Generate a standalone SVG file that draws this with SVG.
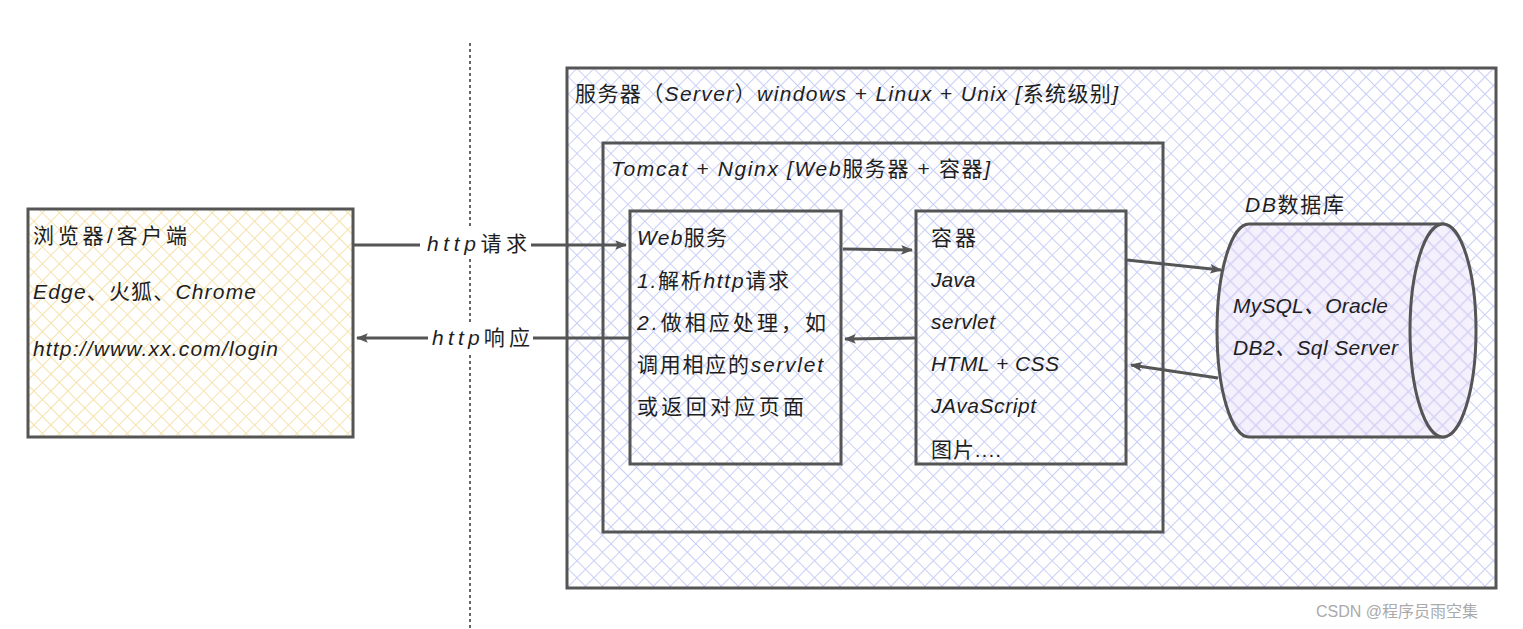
<svg xmlns="http://www.w3.org/2000/svg" width="1523" height="629" viewBox="0 0 1523 629">
<defs>
<pattern id="hy" width="12" height="12" patternUnits="userSpaceOnUse" patternTransform="rotate(45)">
<rect width="12" height="12" fill="#fff"/>
<path d="M0 0H12M0 0V12" stroke="#f5e2ad" stroke-width="2"/>
</pattern>
<pattern id="hb" width="12" height="12" patternUnits="userSpaceOnUse" patternTransform="rotate(45)">
<rect width="12" height="12" fill="#fff"/>
<path d="M0 0H12M0 0V12" stroke="#c9cff6" stroke-width="2"/>
</pattern>
<pattern id="hp" width="12" height="12" patternUnits="userSpaceOnUse" patternTransform="rotate(45)">
<rect width="12" height="12" fill="#f4f1fd"/>
<path d="M0 0H12M0 0V12" stroke="#d6d2f6" stroke-width="3"/>
</pattern>
<marker id="ah" viewBox="0 0 10 10" refX="9" refY="5" markerWidth="4" markerHeight="4" orient="auto" markerUnits="strokeWidth">
<path d="M0 1L10 5L0 9L2 5Z" fill="#555"/>
</marker>
<style>
.box{stroke:#555;stroke-width:3}
.t{font-family:"Liberation Sans","Noto Sans CJK SC",sans-serif;font-size:21px;fill:#1e1e1e}
.i{font-style:italic}
.c{stroke:#555;stroke-width:3;fill:none;marker-end:url(#ah)}
.l{stroke:#555;stroke-width:3;fill:none}
</style>
</defs>
<rect width="1523" height="629" fill="#fff"/>
<line x1="470" y1="43" x2="470" y2="629" stroke="#666" stroke-width="2" stroke-dasharray="3 3"/>

<g id="browser">
<rect class="box" x="28" y="209" width="325" height="228" fill="url(#hy)"/>
<text class="t" x="33" y="243" textLength="154" lengthAdjust="spacing">浏览器/客户端</text>
<text class="t" x="33" y="299" textLength="223" lengthAdjust="spacing"><tspan class="i">Edge</tspan>、火狐、<tspan class="i">Chrome</tspan></text>
<text class="t i" x="33" y="356" textLength="245" lengthAdjust="spacing">http://www.xx.com/login</text>
</g>

<g id="server">
<rect class="box" x="567" y="68" width="929" height="520" fill="url(#hb)"/>
<text class="t" x="575" y="101" textLength="543" lengthAdjust="spacing">服务器（<tspan class="i">Server</tspan>）<tspan class="i">windows + Linux + Unix [</tspan>系统级别<tspan class="i">]</tspan></text>
</g>

<g id="tomcat">
<rect class="box" x="603" y="143" width="560" height="389" fill="url(#hb)"/>
<text class="t" x="611" y="176" textLength="379" lengthAdjust="spacing"><tspan class="i">Tomcat + Nginx [Web</tspan>服务器 + 容器<tspan class="i">]</tspan></text>
</g>

<g id="web">
<rect class="box" x="630" y="211" width="211" height="253" fill="url(#hb)"/>
<text class="t" x="637" y="245" textLength="90" lengthAdjust="spacing"><tspan class="i">Web</tspan>服务</text>
<text class="t" x="637" y="288" textLength="152" lengthAdjust="spacing"><tspan class="i">1.</tspan>解析<tspan class="i">http</tspan>请求</text>
<text class="t" x="637" y="330" textLength="189" lengthAdjust="spacing"><tspan class="i">2.</tspan>做相应处理，如</text>
<text class="t" x="637" y="372" textLength="186" lengthAdjust="spacing">调用相应的<tspan class="i">servlet</tspan></text>
<text class="t" x="637" y="414" textLength="167" lengthAdjust="spacing">或返回对应页面</text>
</g>

<g id="container">
<rect class="box" x="916" y="211" width="210" height="253" fill="url(#hb)"/>
<text class="t" x="931" y="245" textLength="45" lengthAdjust="spacing">容器</text>
<text class="t i" x="931" y="287">Java</text>
<text class="t i" x="931" y="329" textLength="64" lengthAdjust="spacing">servlet</text>
<text class="t i" x="931" y="371" textLength="128" lengthAdjust="spacing">HTML + CSS</text>
<text class="t i" x="931" y="413" textLength="105" lengthAdjust="spacing">JAvaScript</text>
<text class="t" x="931" y="457" textLength="70" lengthAdjust="spacing">图片....</text>
</g>

<g id="db">
<text class="t" x="1245" y="212" textLength="99" lengthAdjust="spacing"><tspan class="i">DB</tspan>数据库</text>
<path class="box" d="M1249 224H1443V437H1249A32 106.5 0 0 1 1249 224Z" fill="url(#hp)"/>
<ellipse class="box" cx="1443" cy="330.5" rx="33" ry="106.5" fill="url(#hp)"/>
<text class="t i" x="1233" y="313" textLength="155" lengthAdjust="spacing">MySQL、Oracle</text>
<text class="t i" x="1233" y="355" textLength="165" lengthAdjust="spacing">DB2、Sql Server</text>
</g>

<g id="connectors">
<path class="l" d="M353 245H420"/>
<path class="c" d="M531 245H626"/>
<rect x="421" y="228" width="108" height="30" fill="#fff"/>
<text class="t" x="427" y="251" textLength="100" lengthAdjust="spacing"><tspan class="i">http</tspan>请求</text>
<path class="l" d="M630 338H533"/>
<path class="c" d="M428 338H357"/>
<rect x="429" y="322" width="104" height="30" fill="#fff"/>
<text class="t" x="432" y="345" textLength="98" lengthAdjust="spacing"><tspan class="i">http</tspan>响应</text>
<path class="c" d="M843 249L912 250"/>
<path class="c" d="M916 338L845 339"/>
<path class="c" d="M1127 260L1221 270"/>
<path class="c" d="M1218 378L1131 365"/>
</g>

<text x="1316" y="617" font-family="'Liberation Sans','Noto Sans CJK SC',sans-serif" font-size="16" fill="#aaa" textLength="162" lengthAdjust="spacing">CSDN @程序员雨空集</text>
</svg>
